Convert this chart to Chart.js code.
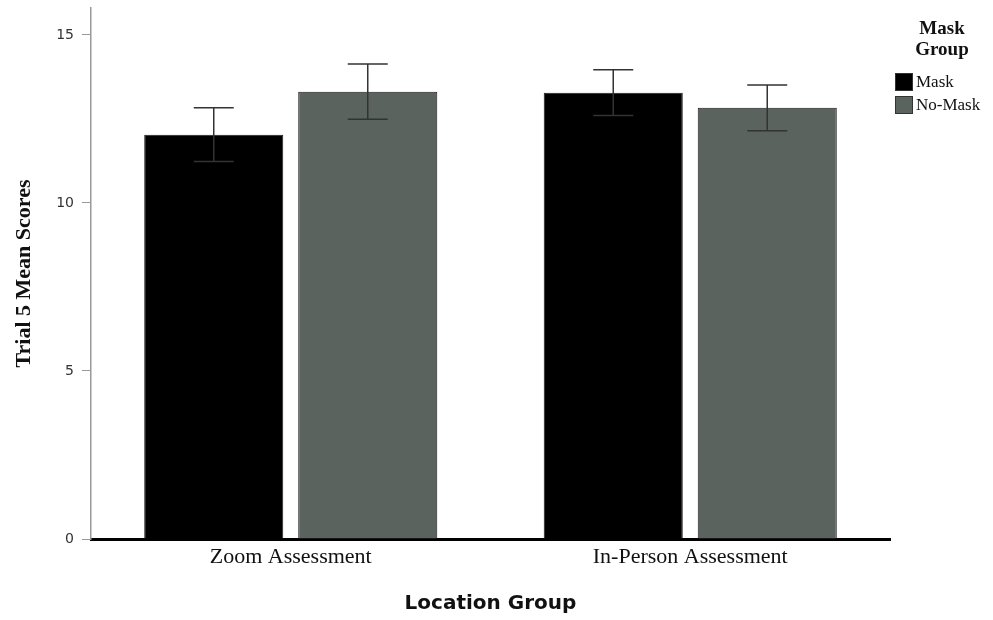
<!DOCTYPE html>
<html>
<head>
<meta charset="utf-8">
<script src="https://cdn.jsdelivr.net/npm/chart.js@4"></script>
<style>
  html, body { margin: 0; padding: 0; background: #fff; }
  canvas { display: block; }
</style>
</head>
<body>
<canvas id="scoresChart" width="993" height="620"></canvas>
<script>
const categories = ["Zoom Assessment", "In-Person Assessment"];
const maskMeans = [12.03, 13.28];
const maskErrors = [0.8, 0.68];
const noMaskMeans = [13.31, 12.83];
const noMaskErrors = [0.82, 0.68];
const yTicks = [0, 5, 10, 15];
const legendTitle = ["Mask", "Group"];

const serif = "'Liberation Serif', 'Times New Roman', serif";
const sans = "'DejaVu Sans', sans-serif";

// error bars drawn on top of each bar
const errorBars = {
  id: "errorBars",
  afterDatasetsDraw(chart) {
    const { ctx } = chart;
    const yScale = chart.scales.y;
    chart.data.datasets.forEach((ds, i) => {
      const meta = chart.getDatasetMeta(i);
      meta.data.forEach((bar, j) => {
        const v = ds.data[j];
        const e = ds.errors[j];
        const top = yScale.getPixelForValue(v + e);
        const bot = yScale.getPixelForValue(v - e);
        ctx.save();
        ctx.strokeStyle = "#333";
        ctx.lineWidth = 1.5;
        ctx.beginPath();
        ctx.moveTo(bar.x, top);
        ctx.lineTo(bar.x, bot);
        ctx.moveTo(bar.x - 20, top);
        ctx.lineTo(bar.x + 20, top);
        ctx.moveTo(bar.x - 20, bot);
        ctx.lineTo(bar.x + 20, bot);
        ctx.stroke();
        ctx.restore();
      });
    });
  },
};

// legend with a two-line title, on the right
const sideLegend = {
  id: "sideLegend",
  afterDraw(chart) {
    const { ctx } = chart;
    const x0 = chart.chartArea.right + 5;
    ctx.save();
    ctx.fillStyle = "#111";
    ctx.font = "bold 19px " + serif;
    ctx.textAlign = "center";
    ctx.textBaseline = "middle";
    legendTitle.forEach((line, k) => {
      ctx.fillText(line, x0 + 47, 29 + k * 21);
    });
    ctx.textAlign = "left";
    ctx.font = "17px " + serif;
    chart.data.datasets.forEach((ds, i) => {
      const y = 73 + i * 23;
      ctx.fillStyle = ds.backgroundColor;
      ctx.fillRect(x0, y, 18, 18);
      ctx.strokeStyle = "#333";
      ctx.lineWidth = 1;
      ctx.strokeRect(x0 + 0.5, y + 0.5, 17, 17);
      ctx.fillStyle = "#111";
      ctx.fillText(ds.label, x0 + 21, y + 10);
    });
    ctx.restore();
  },
};

new Chart(document.getElementById("scoresChart"), {
  type: "bar",
  data: {
    labels: categories,
    datasets: [
      {
        label: "Mask",
        data: maskMeans,
        errors: maskErrors,
        backgroundColor: "#000000",
        borderColor: "#1a1a1a",
        borderWidth: 1,
      },
      {
        label: "No-Mask",
        data: noMaskMeans,
        errors: noMaskErrors,
        backgroundColor: "#5b635e",
        borderColor: "#1a1a1a",
        borderWidth: 1,
      },
    ],
  },
  options: {
    responsive: false,
    animation: false,
    layout: { padding: { top: 8, right: 103, left: 0, bottom: 0 } },
    categoryPercentage: 0.771,
    barPercentage: 0.903,
    plugins: {
      legend: { display: false },
      tooltip: { enabled: false },
    },
    scales: {
      x: {
        grid: { display: false, drawTicks: false },
        border: { display: true, color: "#000", width: 3 },
        ticks: {
          color: "#111",
          font: { family: serif, size: 22 },
          padding: 5,
        },
        title: {
          display: true,
          text: "Location Group",
          color: "#111",
          font: { family: sans, size: 20, weight: "bold" },
          padding: { top: 0, bottom: 4 },
        },
        afterFit(scale) {
          scale.height = 81;
        },
      },
      y: {
        min: 0,
        max: 15.8,
        afterBuildTicks(scale) {
          scale.ticks = yTicks.map((v) => ({ value: v }));
        },
        grid: {
          drawOnChartArea: false,
          drawTicks: true,
          tickLength: 9,
          color: "#999",
        },
        border: { display: true, color: "#999", width: 1.5 },
        ticks: {
          color: "#333",
          font: { family: sans, size: 14 },
          padding: 8,
        },
        title: {
          display: true,
          text: "Trial 5 Mean Scores",
          color: "#111",
          font: { family: serif, size: 22, weight: "bold" },
          padding: { top: 11, bottom: 0 },
        },
        afterFit(scale) {
          scale.width = 91;
          scale.paddingTop = 0;
          scale.paddingBottom = 0;
        },
      },
    },
  },
  plugins: [errorBars, sideLegend],
});
</script>
</body>
</html>
